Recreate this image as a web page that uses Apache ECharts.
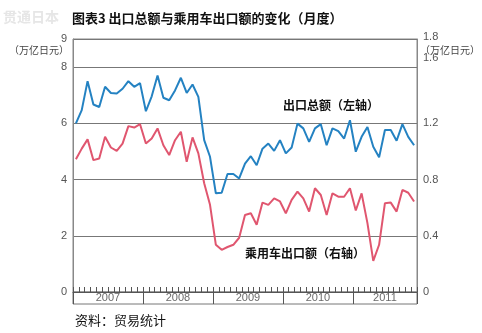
<!DOCTYPE html>
<html><head><meta charset="utf-8">
<script src="https://cdn.jsdelivr.net/npm/echarts@6/dist/echarts.min.js"></script>
<style>html,body{margin:0;padding:0;background:#fff}#c{width:482px;height:333px}</style>
</head><body><div id="c"></div>
<script>
// Years and number of months shown per year (Jan 2007 - Nov 2011)
const years = ['2007', '2008', '2009', '2010', '2011'];
const monthsPerYear = [12, 12, 12, 12, 11];

// 出口总额 (万亿日元, left axis)
const totalExports = [
  6.0, 6.47, 7.5, 6.67, 6.58, 7.3, 7.08, 7.06, 7.23, 7.5, 7.3, 7.43,
  6.43, 6.96, 7.7, 6.91, 6.82, 7.17, 7.62, 7.08, 7.38, 6.94, 5.4, 4.81,
  3.51, 3.53, 4.2, 4.2, 4.04, 4.57, 4.83, 4.51, 5.1, 5.28, 5.02, 5.4,
  4.93, 5.14, 5.99, 5.82, 5.34, 5.82, 5.97, 5.22, 5.82, 5.72, 5.46, 6.11,
  4.99, 5.52, 5.87, 5.17, 4.79, 5.76, 5.76, 5.38, 5.97, 5.52, 5.22
];

// 乘用车出口额 (万亿日元, right axis)
const carExports = [
  0.944, 1.02, 1.086, 0.938, 0.95, 1.104, 1.028, 1.004, 1.056, 1.18, 1.17, 1.194,
  1.056, 1.092, 1.164, 1.044, 0.974, 1.08, 1.14, 0.926, 1.10, 0.986, 0.774, 0.62,
  0.336, 0.30, 0.32, 0.336, 0.386, 0.548, 0.56, 0.478, 0.636, 0.62, 0.666, 0.644,
  0.56, 0.656, 0.714, 0.666, 0.572, 0.738, 0.69, 0.548, 0.702, 0.678, 0.678, 0.738,
  0.58, 0.702, 0.49, 0.222, 0.336, 0.632, 0.636, 0.572, 0.726, 0.706, 0.644
];

// Axis settings
const leftAxis = { min: 0, max: 9, interval: 2 };
const rightAxis = { min: 0, max: 1.8, interval: 0.4 };

// Month categories
const months = [];
years.forEach((y, i) => { for (let m = 1; m <= monthsPerYear[i]; m++) months.push(y + '-' + m); });
const nMonths = months.length;

// Year label positions in month units (centre of each year's span)
const yearLabels = [];
let acc = 0;
years.forEach((y, i) => { yearLabels.push({ value: [acc + monthsPerYear[i] / 2, 0.5], name: y }); acc += monthsPerYear[i]; });

const CJK = '"Noto Sans CJK SC", sans-serif';
const LAT = '"Liberation Sans", Arial, sans-serif';

const chart = echarts.init(document.getElementById('c'), null, { renderer: 'canvas' });
chart.setOption({
  animation: false,
  backgroundColor: '#fff',
  grid: [
    { left: 73, right: 65, top: 39, height: 253, show: true, borderColor: '#888', borderWidth: 1, containLabel: false },
    { left: 73, right: 65, top: 292, height: 12, show: true, borderColor: '#777', borderWidth: 1, containLabel: false }
  ],
  xAxis: [
    {
      type: 'category', gridIndex: 0, data: months, boundaryGap: true,
      axisLine: { show: true, lineStyle: { color: '#555', width: 1 } },
      axisTick: { show: true, inside: true, interval: 0, length: 5, lineStyle: { color: '#555' } },
      axisLabel: { show: false }, splitLine: { show: false }
    },
    {
      type: 'value', gridIndex: 1, min: 0, max: nMonths, interval: 12,
      axisLine: { show: false }, axisTick: { show: false }, axisLabel: { show: false },
      splitLine: { show: true, lineStyle: { color: '#555', width: 1 } }
    }
  ],
  yAxis: [
    {
      type: 'value', gridIndex: 0, position: 'left', min: leftAxis.min, max: leftAxis.max, interval: leftAxis.interval,
      axisLine: { show: true, lineStyle: { color: '#888' } }, axisTick: { show: false },
      axisLabel: { color: '#555', fontSize: 11, fontFamily: LAT, margin: 6 },
      splitLine: { show: true, lineStyle: { color: '#777', width: 1 } }
    },
    {
      type: 'value', gridIndex: 0, position: 'right', min: rightAxis.min, max: rightAxis.max, interval: rightAxis.interval,
      axisLine: { show: true, lineStyle: { color: '#888' } }, axisTick: { show: false },
      axisLabel: {
        color: '#555', fontSize: 11, fontFamily: LAT, margin: 6,
        formatter: v => {
          const s = v === 0 ? '0' : v.toFixed(1);
          if (Math.abs(v - 1.6) < 1e-6) return '{up|' + s + '}';
          if (Math.abs(v - 1.8) < 1e-6) return '{top|' + s + '}';
          return s;
        },
        rich: {
          up: { color: '#555', fontSize: 11, fontFamily: LAT, padding: [0, 0, 18, 0] },
          top: { color: '#555', fontSize: 11, fontFamily: LAT, padding: [0, 0, 5, 0] }
        }
      },
      splitLine: { show: false }
    },
    { type: 'value', gridIndex: 1, min: 0, max: 1, show: false }
  ],
  series: [
    {
      name: '出口总额', type: 'line', xAxisIndex: 0, yAxisIndex: 0, data: totalExports,
      symbol: 'none', lineStyle: { color: '#2482c2', width: 2 }, z: 3
    },
    {
      name: '乘用车出口额', type: 'line', xAxisIndex: 0, yAxisIndex: 1, data: carExports,
      symbol: 'none', lineStyle: { color: '#e0566f', width: 2 }, z: 3
    },
    {
      type: 'scatter', xAxisIndex: 1, yAxisIndex: 2, data: yearLabels, symbolSize: 0, silent: true,
      label: { show: true, position: 'inside', formatter: p => p.name, color: '#444', fontSize: 11, fontFamily: LAT }
    }
  ],
  graphic: [
    { type: 'text', x: 3, y: 17, style: { text: '贯通日本', fill: '#e6e6e6', font: 'bold 14px ' + CJK, textVerticalAlign: 'middle' } },
    { type: 'text', x: 72, y: 18, style: { text: '图表3 出口总额与乘用车出口额的变化（月度）', fill: '#111', font: 'bold 13px ' + CJK, textVerticalAlign: 'middle' } },
    { type: 'text', x: 69, y: 50, style: { text: '（万亿日元）', fill: '#444', font: '10px ' + CJK, textAlign: 'right', textVerticalAlign: 'middle' } },
    { type: 'text', x: 420, y: 50, style: { text: '（万亿日元）', fill: '#444', font: '10px ' + CJK, textAlign: 'left', textVerticalAlign: 'middle' } },
    { type: 'text', x: 331, y: 105, style: { text: '出口总额（左轴）', fill: '#111', font: 'bold 12px ' + CJK, textAlign: 'center', textVerticalAlign: 'middle' } },
    { type: 'text', x: 305, y: 253, style: { text: '乘用车出口额（右轴）', fill: '#111', font: 'bold 12px ' + CJK, textAlign: 'center', textVerticalAlign: 'middle' } },
    { type: 'text', x: 75, y: 320, style: { text: '资料：贸易统计', fill: '#111', font: '13px ' + CJK, textVerticalAlign: 'middle' } }
  ]
});
</script>
</body></html>
